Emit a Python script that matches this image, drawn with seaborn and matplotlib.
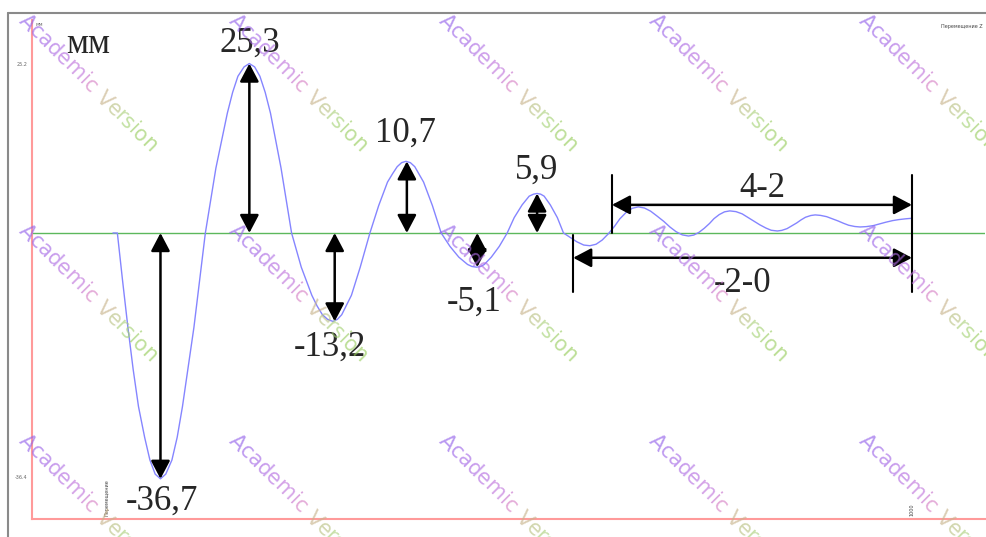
import numpy as np
import pandas as pd
import matplotlib
matplotlib.use("Agg")
import matplotlib.pyplot as plt
import seaborn as sns
from matplotlib.patches import ArrowStyle
from matplotlib.lines import Line2D

# ---------------- data ----------------
time = [92, 97, 103, 109, 115, 121, 128, 134, 140, 146,
        152, 159, 165, 171, 184, 197, 209, 222, 228, 234, 241, 247,
        253, 259, 265, 271, 283, 295, 306, 318, 324, 330, 336, 342,
        347, 352, 363, 373, 384, 394, 404, 410, 415, 420, 425,
        430, 435, 445, 455, 465, 475, 485, 495, 500, 505,
        510, 514, 522, 531, 540, 548, 557, 565, 570, 574,
        578, 582, 589, 597, 604, 612, 619, 627, 634,
        641, 648, 655, 662, 668, 675, 682, 689,
        696, 703, 710, 718, 725, 732, 739, 746,
        752, 758, 764, 770, 775, 781, 787, 793,
        800, 807, 813, 820, 827, 834, 840, 847,
        852, 858, 863, 869, 874, 879, 885, 890,
        896, 903, 909, 916, 922, 928, 935, 941,
        948, 956, 963, 970, 978, 985, 993, 1000]
disp = [0.0, 0.0, -7.2, -14.1, -20.4, -25.9, -30.5, -33.9, -36.0, -36.7,
        -36.0, -33.9, -30.5, -25.9, -14.1, 0.0, 9.7, 17.9, 21.0, 23.4, 24.8, 25.3,
        24.8, 23.4, 21.0, 17.9, 9.7, 0.0, -5.1, -9.3, -10.9, -12.2, -12.9, -13.2,
        -12.9, -12.2, -9.3, -5.1, 0.0, 4.1, 7.6, 8.9, 9.9, 10.5, 10.7,
        10.5, 9.9, 7.6, 4.1, 0.0, -2.0, -3.6, -4.7, -5.0, -5.1,
        -5.0, -4.7, -3.6, -2.0, 0.0, 2.3, 4.2, 5.5, 5.8, 5.9,
        5.8, 5.5, 4.2, 2.3, 0.0, -0.7, -1.3, -1.8, -1.9,
        -1.68, -1.05, -0.11, 1.0, 2.11, 3.05, 3.68, 3.9,
        3.73, 3.26, 2.56, 1.73, 0.89, 0.19, -0.28, -0.45,
        -0.31, 0.10, 0.71, 1.43, 2.14, 2.75, 3.16, 3.3,
        3.19, 2.86, 2.37, 1.8, 1.23, 0.74, 0.41, 0.3,
        0.39, 0.65, 1.04, 1.5, 1.96, 2.35, 2.61, 2.7,
        2.63, 2.44, 2.14, 1.8, 1.46, 1.16, 0.97, 0.9,
        0.95, 1.1, 1.35, 1.6, 1.85, 2.0, 2.12, 2.2]

peak_time = [146, 247, 344, 426, 506, 574]
peak_value = [-36.7, 25.3, -13.2, 10.7, -5.1, 5.9]
peak_labels = ["-36,7", "25,3", "-13,2", "10,7", "-5,1", "5,9"]

span_labels = ["4-2", "-2-0"]
span_start = [659, 615]
span_end = [1000, 1000]
span_level = [4.2, -3.7]

ytick_values = [25.2, -36.4]
ytick_labels = ["25.2", "-36.4"]

# ---------------- figure ----------------
sns.set_style("white")
plt.rcParams["font.family"] = ["DejaVu Sans"]
W, H = 987, 537
fig = plt.figure(figsize=(W / 100, H / 100), dpi=100)
ax = fig.add_axes([32 / W, (H - 519) / H, (985 - 32) / W, (519 - 20) / H])

df = pd.DataFrame({"t": time, "z": disp})
ax.axhline(0, color="#5cb85c", lw=1.0, zorder=1)
sns.lineplot(data=df, x="t", y="z", ax=ax, color="#8585ff", lw=1.0, zorder=2)

ax.set_xlim(0, 1083)
ax.set_ylim(-42.7, 31.8)
ax.set_xlabel("")
ax.set_ylabel("")

for s in ["top", "right"]:
    ax.spines[s].set_visible(False)
for s in ["left", "bottom"]:
    ax.spines[s].set_color("#ff9a9a")
    ax.spines[s].set_linewidth(1.5)

ax.set_xticks([])
ax.set_yticks(ytick_values)
ax.set_yticklabels(ytick_labels)
ax.tick_params(axis="y", direction="in", length=4, width=1, color="#ff9a9a",
               labelsize=3.5, labelcolor="#666666", pad=3)

serif = ["Liberation Serif", "DejaVu Serif"]
big = 25

arrow = ArrowStyle("<|-|>", head_length=0.55, head_width=0.29)

# vertical double arrows
label_offsets = [(2, -40.1), (1, 28.4), (-5, -17.0), (-2, 14.9), (-3, -10.3), (0, 9.4)]
for t, v, lab, (dx, ly) in zip(peak_time, peak_value, peak_labels, label_offsets):
    ax.annotate("", xy=(t, v), xytext=(t, 0),
                arrowprops=dict(arrowstyle=arrow, color="black", lw=1.8,
                                mutation_scale=20, shrinkA=0, shrinkB=0), zorder=5)
    ax.text(t + dx, ly, lab, fontsize=big, family=serif, ha="center", va="center", zorder=6)

# horizontal span arrows and their boundary lines
ax.plot([659, 659], [0, 8.6], color="black", lw=1.5, zorder=5)
ax.plot([1000, 1000], [8.6, -8.8], color="black", lw=1.5, zorder=5)
ax.plot([615, 615], [-0.3, -8.8], color="black", lw=1.5, zorder=5)
span_text_pos = [(830, 6.7), (807, -7.5)]
for a, b, lvl, lab, (tx, ty) in zip(span_start, span_end, span_level, span_labels, span_text_pos):
    ax.annotate("", xy=(b, lvl), xytext=(a, lvl),
                arrowprops=dict(arrowstyle=arrow, color="black", lw=1.8,
                                mutation_scale=20, shrinkA=0, shrinkB=0), zorder=5)
    ax.text(tx, ty, lab, fontsize=big, family=serif, ha="center", va="center", zorder=6)

# unit label
ax.text(64, 28.1, "мм", fontsize=big, family=serif, ha="center", va="center")

# tiny labels of the original plot
ax.text(4, 31.2, "мм", fontsize=3.5, color="#666666", ha="left", va="center")
ax.text(1080, 30.8, "Перемещение Z", fontsize=3.5, color="#444444", ha="right", va="center")
ax.text(85, -42.2, "Перемещение", fontsize=3.5, color="#444444", rotation=90,
        ha="center", va="bottom")
ax.text(1000, -42.2, "1000", fontsize=3.5, color="#444444", rotation=90,
        ha="center", va="bottom")

# grey frame of the original window
fig.add_artist(Line2D([8 / W, 8 / W], [0, 1 - 13 / H], color="#8a8a8a", lw=1.5,
                      transform=fig.transFigure))
fig.add_artist(Line2D([8 / W, 1], [1 - 13 / H, 1 - 13 / H], color="#8a8a8a", lw=1.5,
                      transform=fig.transFigure))

# "Academic Version" watermark with colour gradient
fig.canvas.draw()
renderer = fig.canvas.get_renderer()
wm = "Academic Version"
wm_size = 15
prefix_w = [0.0]
for i in range(1, len(wm) + 1):
    tt = fig.text(0, 0, wm[:i], fontsize=wm_size)
    prefix_w.append(tt.get_window_extent(renderer).width)
    tt.remove()
wm_colors = [(0.0, "#9462ea"), (0.3, "#b86ee0"), (0.5, "#dc84c0"),
             (0.6, "#c8b48c"), (0.75, "#a8d47a"), (1.0, "#96cc5a")]
cmap = matplotlib.colors.LinearSegmentedColormap.from_list("wm", wm_colors)
ang = np.deg2rad(-45)
for gx in [18, 228, 438, 648, 858]:
    for gy in [22, 232, 442]:
        for i, ch in enumerate(wm):
            if ch == " ":
                continue
            px = gx + prefix_w[i] * np.cos(ang)
            py = (H - gy) + prefix_w[i] * np.sin(ang)
            fig.text(px / W, py / H, ch, fontsize=wm_size, rotation=-45,
                     rotation_mode="anchor", ha="left", va="baseline",
                     color=cmap(i / (len(wm) - 1)), alpha=0.65, zorder=10)

fig.savefig("out.png", dpi=100)
